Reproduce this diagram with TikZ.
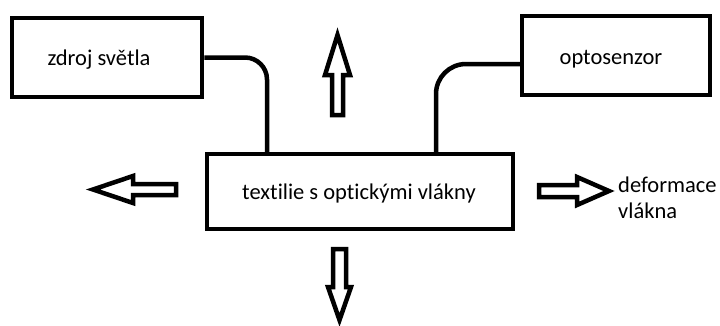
\documentclass[tikz,border=0pt]{standalone}
\usepackage{fontspec}
\setmainfont{Carlito}[Ligatures=NoCommon]
\begin{document}
\begin{tikzpicture}[x=1pt,y=-1pt,
  box/.style={draw=black, line width=4.5pt, fill=white, inner sep=0pt},
  lbl/.style={inner sep=0pt, anchor=base, font=\fontsize{22.5}{26}\selectfont},
  conn/.style={draw=black, line width=4.5pt},
  blockarrow/.style={draw=black, line width=4.5pt, line join=miter, fill=white}]
\useasboundingbox[fill=white] (0,0) rectangle (720,325);
\node[box, minimum width=190pt, minimum height=79pt] (src) at (107,57.5) {};
\node[box, minimum width=188pt, minimum height=79pt] (sensor) at (616,55.5) {};
\node[box, minimum width=306pt, minimum height=75pt] (fabric) at (360,191.5) {};
\node[lbl] (srclbl) at (99,65) {zdroj světla};
\node[lbl] (sensorlbl) at (611,64) {optosenzor};
\node[lbl] (fabriclbl) at (359,199) {textilie s optickými vlákny};
\node[lbl, anchor=base west, align=left] (deform) at (618,218) {deformace\\vlákna};
\draw[conn, rounded corners=22pt] (src.east) -| ([xshift=-93pt]fabric.north);
\draw[conn, rounded corners=30pt] ([yshift=-8.5pt]sensor.west) -| ([xshift=76pt]fabric.north);
% block arrows
\draw[blockarrow] (176,184) -- (133,184) -- (133,176) -- (93,189.5) -- (133,203) -- (133,195) -- (176,195) -- cycle;
\draw[blockarrow] (539,185) -- (577,185) -- (577,177) -- (609,191) -- (577,205) -- (577,197) -- (539,197) -- cycle;
\draw[blockarrow] (332,115) -- (332,75) -- (325,75) -- (337.5,35) -- (350,75) -- (343,75) -- (343,115) -- cycle;
\draw[blockarrow] (333,249) -- (346,249) -- (346,287) -- (351,287) -- (339.5,320) -- (328,287) -- (333,287) -- cycle;
\end{tikzpicture}
\end{document}
